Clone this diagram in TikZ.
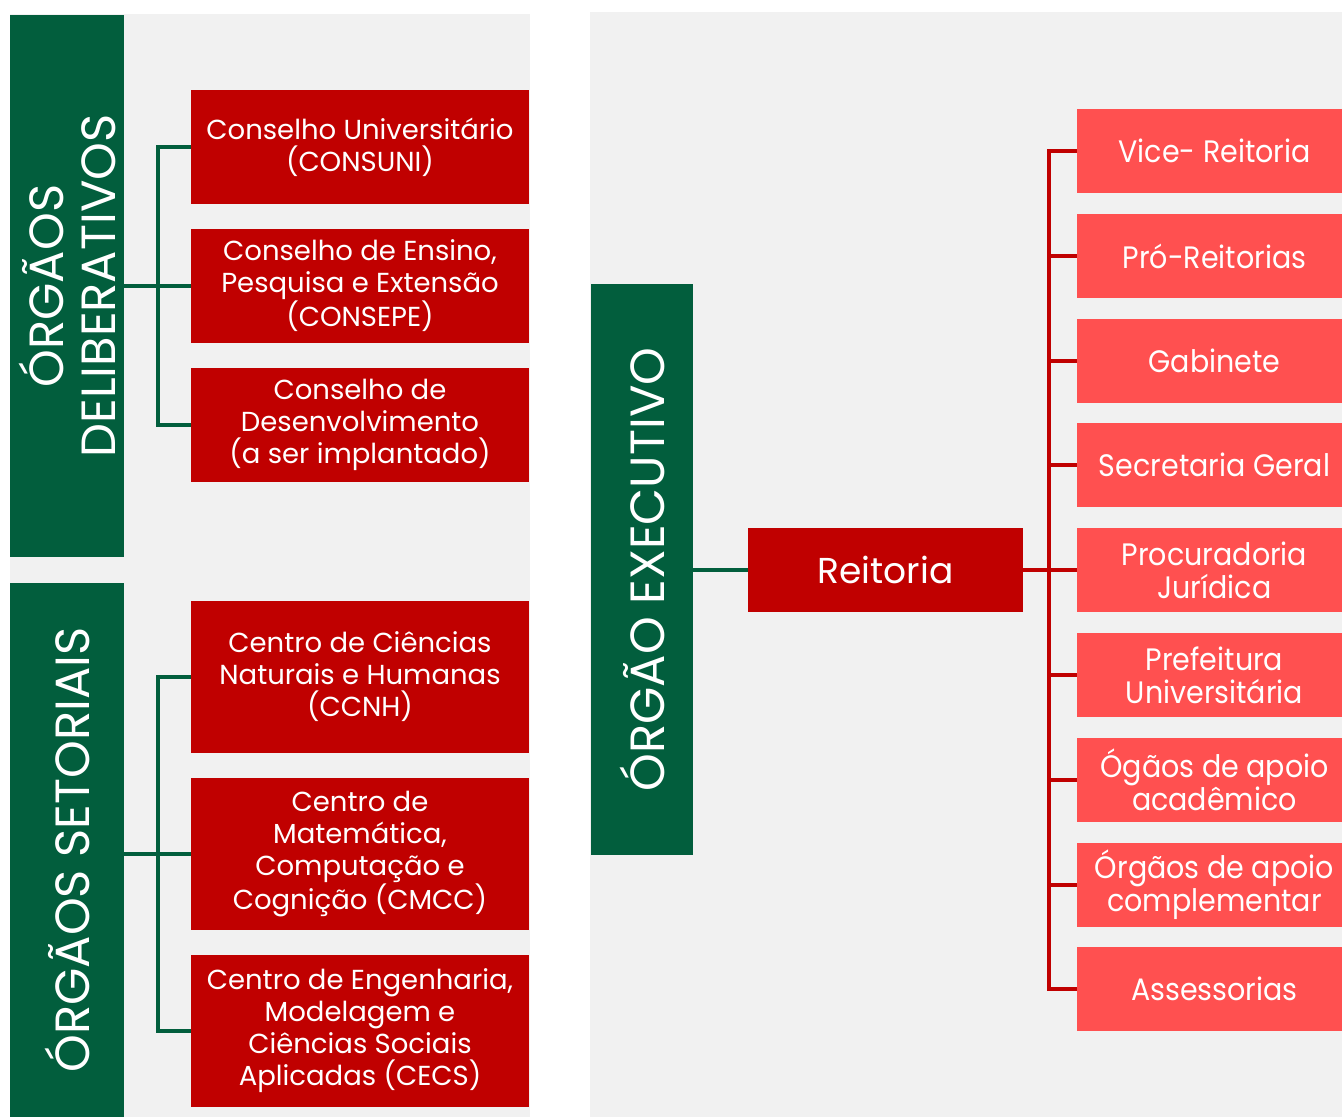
\documentclass[tikz,border=0pt]{standalone}
\usepackage{fontspec}
\setmainfont{Poppins}
\newfontfamily\condfont[FakeStretch=0.92]{Poppins}
\definecolor{dred}{HTML}{C00000}
\definecolor{salmon}{HTML}{FF5050}
\definecolor{dgreen}{HTML}{025E3D}
\definecolor{bggrey}{HTML}{F1F1F1}
\tikzset{
  gbox/.style={fill=dgreen, draw=none, inner sep=0pt},
  gtext/.style={text=white, align=center, inner sep=0pt, font=\fontsize{48}{52}\selectfont},
  rbox/.style={fill=dred, draw=none, text=white, inner sep=0pt, minimum width=338, align=center, font=\fontsize{27.5}{32}\selectfont},
  sbox/.style={fill=salmon, draw=none, text=white, inner sep=0pt, minimum width=275, minimum height=84, align=center, font=\condfont\fontsize{31}{33}\selectfont},
  gline/.style={draw=dgreen, line width=4pt},
  rline/.style={draw=dred, line width=4pt},
}
\begin{document}
\begin{tikzpicture}[x=1pt,y=-1pt]
\useasboundingbox (0,0) rectangle (1342,1117);
\fill[white] (0,0) rectangle (1342,1117);
\fill[bggrey] (10,14) rectangle (530,1117);
\fill[bggrey] (590,12) rectangle (1342,1117);

% green side boxes
\node[gbox, minimum width=114, minimum height=542] (delib) at (67,286) {};
\node[gtext, rotate=90] (delibT) at (delib.center) {ÓRGÃOS\\DELIBERATIVOS};
\node[gbox, minimum width=114, minimum height=534] (setor) at (67,850) {};
\node[gtext, rotate=90] (setorT) at (setor.center) {ÓRGÃOS SETORIAIS};
\node[gbox, minimum width=102, minimum height=571] (exec) at (642,569.5) {};
\node[gtext, rotate=90] (execT) at (exec.center) {ÓRGÃO EXECUTIVO};

% deliberative councils
\node[rbox, minimum height=114] (c1) at (360,147) {Conselho Universitário\\(CONSUNI)};
\node[rbox, minimum height=114] (c2) at (360,286) {Conselho de Ensino,\\Pesquisa e Extensão\\(CONSEPE)};
\node[rbox, minimum height=114] (c3) at (360,425) {Conselho de\\Desenvolvimento\\(a ser implantado)};

% sector centres
\node[rbox, minimum height=152] (c4) at (360,677) {Centro de Ciências\\Naturais e Humanas\\(CCNH)};
\node[rbox, minimum height=152] (c5) at (360,854) {Centro de\\Matemática,\\Computação e\\Cognição (CMCC)};
\node[rbox, minimum height=152] (c6) at (360,1031) {Centro de Engenharia,\\Modelagem e\\Ciências Sociais\\Aplicadas (CECS)};

% executive
\node[rbox, minimum width=275, minimum height=84, font=\fontsize{36}{40}\selectfont] (reit) at (885.5,570) {Reitoria};

\node[sbox] (s1) at (1214.5,151) {Vice- Reitoria};
\node[sbox] (s2) at (1214.5,256) {Pró-Reitorias};
\node[sbox] (s3) at (1214.5,361) {Gabinete};
\node[sbox] (s4) at (1214.5,465) {Secretaria Geral};
\node[sbox] (s5) at (1214.5,570) {Procuradoria\\Jurídica};
\node[sbox] (s6) at (1214.5,675) {Prefeitura\\Universitária};
\node[sbox] (s7) at (1214.5,780) {Ógãos de apoio\\acadêmico};
\node[sbox] (s8) at (1214.5,885) {Órgãos de apoio\\complementar};
\node[sbox] (s9) at (1214.5,989) {Assessorias};

% green connectors
\coordinate (j1) at (158,286);
\draw[gline] (delib.east) -- (j1);
\draw[gline] (c1.west) -| (j1) |- (c3.west);
\draw[gline] (j1) -- (c2.west);
\coordinate (j2) at (158,854);
\draw[gline] (setor.east |- c5.west) -- (j2);
\draw[gline] (c4.west) -| (j2) |- (c6.west);
\draw[gline] (j2) -- (c5.west);
\draw[gline] (exec.east |- reit.west) -- (reit.west);

% red connectors
\coordinate (rj) at (1049,570);
\draw[rline] (reit.east) -- (rj);
\draw[rline] (s1.west) -| (rj) |- (s9.west);
\foreach \s in {s2,s3,s4,s5,s6,s7,s8} \draw[rline] (rj |- \s.west) -- (\s.west);
\end{tikzpicture}
\end{document}
